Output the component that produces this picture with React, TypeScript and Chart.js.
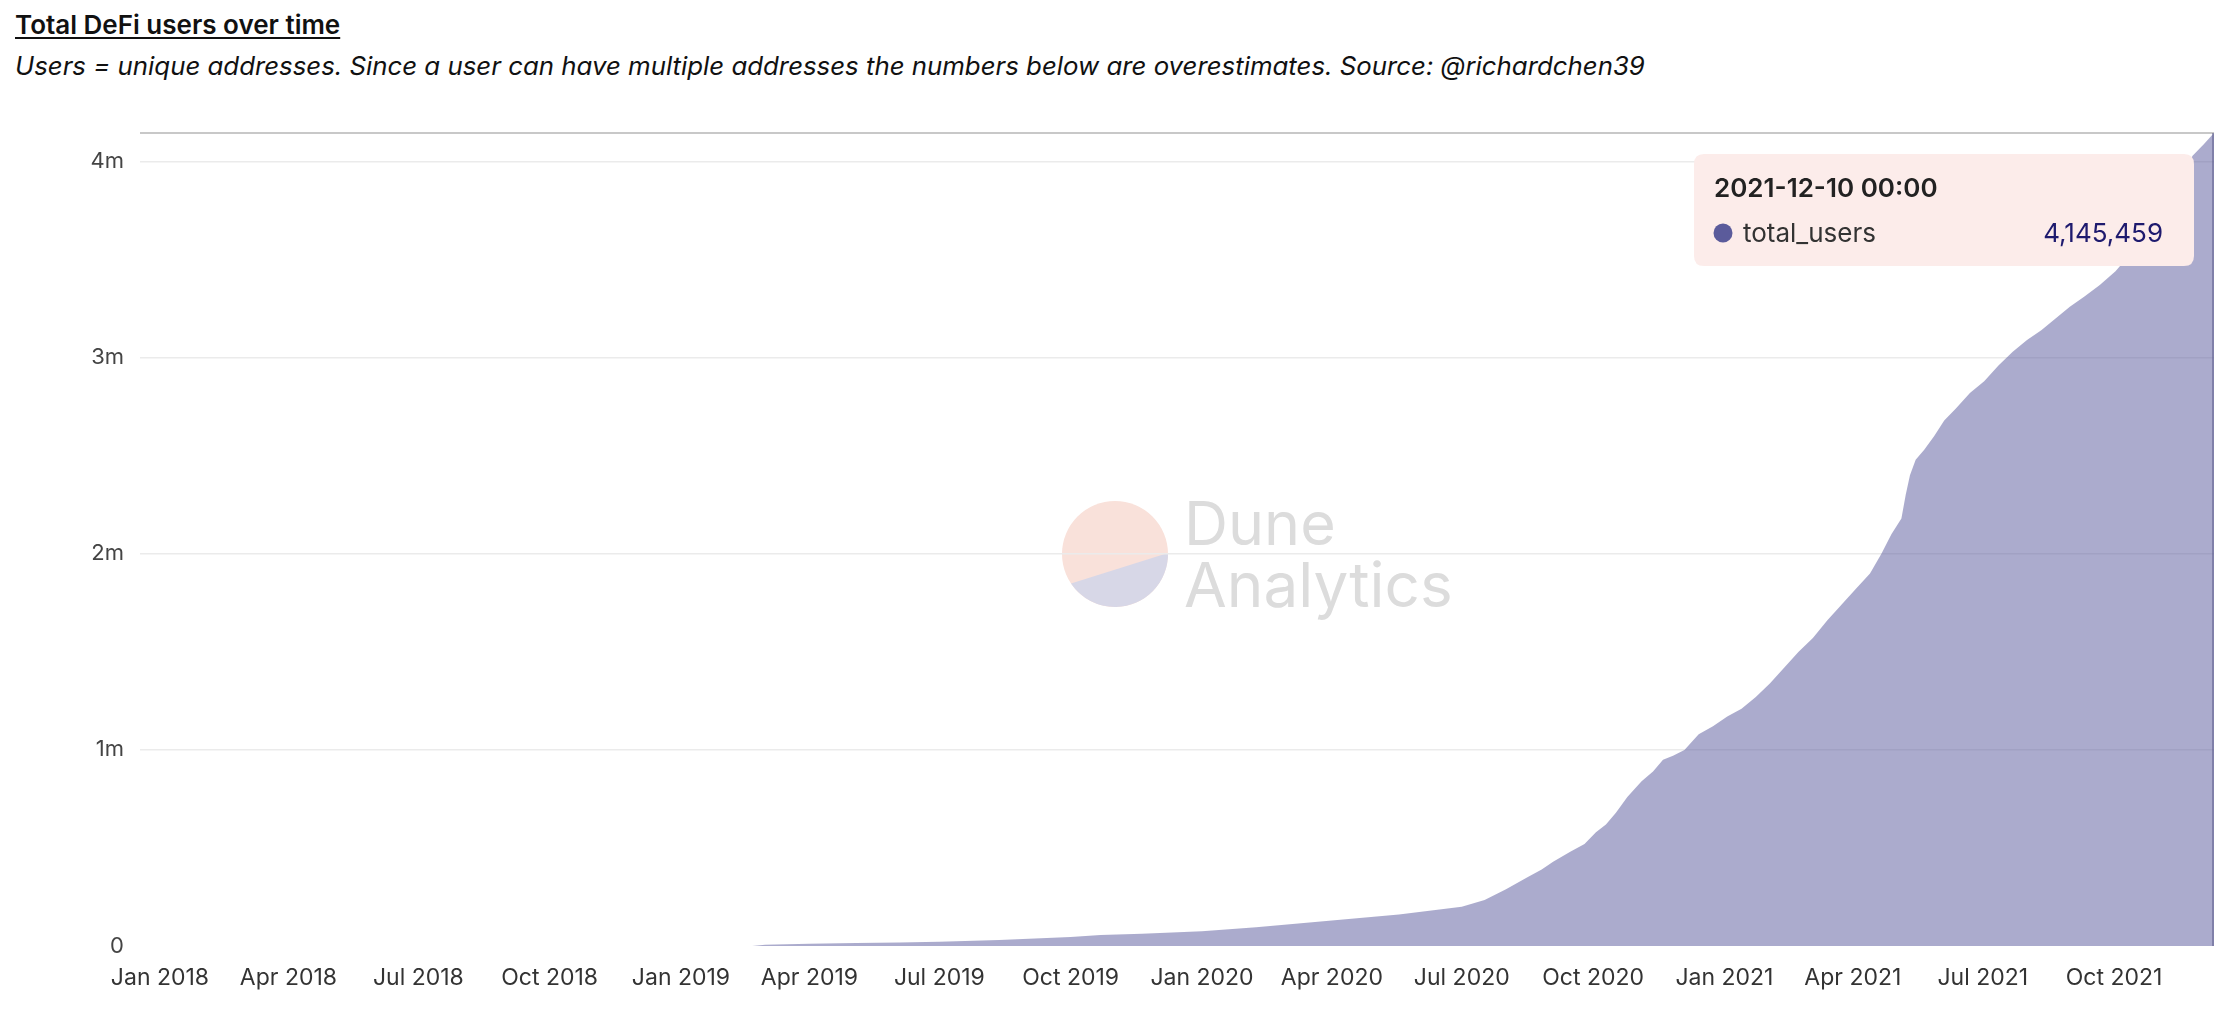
import React, { useEffect, useRef } from "react";
import { Chart, registerables } from "chart.js";

Chart.register(...registerables);

// ---- data ----
const axisStart = "2017-12-18";
const dates = [
  "2017-12-18", "2019-02-20", "2019-03-01", "2019-04-01", "2019-05-04", "2019-06-03",
  "2019-07-01", "2019-08-12", "2019-10-01", "2019-10-22", "2019-11-20", "2020-01-01",
  "2020-02-08", "2020-04-01", "2020-05-18", "2020-07-01", "2020-07-17", "2020-08-01",
  "2020-08-16", "2020-08-26", "2020-09-03", "2020-09-15", "2020-09-25", "2020-10-03",
  "2020-10-10", "2020-10-17", "2020-10-25", "2020-11-04", "2020-11-12", "2020-11-19",
  "2020-11-26", "2020-12-04", "2020-12-14", "2020-12-24", "2021-01-03", "2021-01-13",
  "2021-01-23", "2021-02-02", "2021-02-12", "2021-02-22", "2021-03-04", "2021-03-14",
  "2021-03-24", "2021-04-03", "2021-04-13", "2021-04-21", "2021-04-28", "2021-05-05",
  "2021-05-08", "2021-05-11", "2021-05-15", "2021-05-21", "2021-05-28", "2021-06-04",
  "2021-06-12", "2021-06-22", "2021-07-02", "2021-07-12", "2021-07-22", "2021-08-01",
  "2021-08-11", "2021-08-21", "2021-08-31", "2021-09-10", "2021-09-21", "2021-10-02",
  "2021-10-15", "2021-10-30", "2021-11-14", "2021-11-25", "2021-12-03", "2021-12-10",
];
const totalUsers = [
  0, 0, 6000, 11000, 15000, 18000,
  22000, 30000, 46000, 56000, 62000, 75000,
  95000, 130000, 160000, 200000, 235000, 290000,
  350000, 390000, 430000, 480000, 520000, 580000,
  620000, 680000, 760000, 840000, 890000, 950000,
  970000, 1000000, 1080000, 1120000, 1170000, 1210000,
  1270000, 1340000, 1420000, 1500000, 1570000, 1660000,
  1740000, 1820000, 1900000, 2000000, 2100000, 2180000,
  2300000, 2400000, 2480000, 2530000, 2600000, 2680000,
  2740000, 2820000, 2880000, 2960000, 3030000, 3090000,
  3140000, 3200000, 3260000, 3310000, 3370000, 3440000,
  3550000, 3700000, 3880000, 4030000, 4090000, 4145459,
];
const xTickDates = [
  "2018-01-01", "2018-04-01", "2018-07-01", "2018-10-01",
  "2019-01-01", "2019-04-01", "2019-07-01", "2019-10-01",
  "2020-01-01", "2020-04-01", "2020-07-01", "2020-10-01",
  "2021-01-01", "2021-04-01", "2021-07-01", "2021-10-01",
];
const xTickLabels = [
  "Jan 2018", "Apr 2018", "Jul 2018", "Oct 2018",
  "Jan 2019", "Apr 2019", "Jul 2019", "Oct 2019",
  "Jan 2020", "Apr 2020", "Jul 2020", "Oct 2020",
  "Jan 2021", "Apr 2021", "Jul 2021", "Oct 2021",
];
const yTickValues = [0, 1000000, 2000000, 3000000, 4000000];
const yTickLabels = ["0", "1m", "2m", "3m", "4m"];
const seriesName = "total_users";
const tooltipTitle = "2021-12-10 00:00";
const titleText = "Total DeFi users over time";
const subtitleText =
  "Users = unique addresses. Since a user can have multiple addresses the numbers below are overestimates. Source: @richardchen39";

const toMs = (s: string) => Date.parse(s + "T00:00:00Z");
const FONT = "Inter, 'Open Sans', sans-serif";

const watermarkPlugin = {
  id: "watermark",
  beforeDraw(chart: any) {
    const ctx = chart.ctx;
    const cx = 1115, cy = 554, r = 53;
    ctx.save();
    ctx.beginPath();
    ctx.arc(cx, cy, r, 0, Math.PI * 2);
    ctx.fillStyle = "#f9e1da";
    ctx.fill();
    ctx.beginPath();
    ctx.arc(cx, cy, r, -0.02, 2.55);
    ctx.closePath();
    ctx.fillStyle = "#d7d7e7";
    ctx.fill();
    ctx.fillStyle = "#dcdcdc";
    ctx.font = `61px ${FONT}`;
    ctx.textAlign = "left";
    ctx.textBaseline = "alphabetic";
    ctx.fillText("Dune", 1184, 545);
    ctx.font = `62px ${FONT}`;
    ctx.fillText("Analytics", 1184, 607);
    ctx.restore();
  },
};

const hoverPlugin = {
  id: "hoverMark",
  afterDraw(chart: any) {
    const ctx = chart.ctx;
    const area = chart.chartArea;
    const meta = chart.getDatasetMeta(0);
    const pt = meta.data[meta.data.length - 1];
    const px = pt.x, py = pt.y;
    ctx.save();
    // crosshairs
    ctx.strokeStyle = "#c8c8c8";
    ctx.lineWidth = 2;
    ctx.beginPath();
    ctx.moveTo(area.left, py);
    ctx.lineTo(area.right, py);
    ctx.stroke();
    ctx.strokeStyle = "rgba(95,95,140,0.55)";
    ctx.beginPath();
    ctx.moveTo(px - 1, py);
    ctx.lineTo(px - 1, area.bottom);
    ctx.stroke();
    // tooltip box
    const bx = px - 520, by = py + 21, bw = 500, bh = 112, br = 10;
    ctx.fillStyle = "#fcecea";
    ctx.beginPath();
    ctx.moveTo(bx + br, by);
    ctx.lineTo(bx + bw - br, by);
    ctx.quadraticCurveTo(bx + bw, by, bx + bw, by + br);
    ctx.lineTo(bx + bw, by + bh - br);
    ctx.quadraticCurveTo(bx + bw, by + bh, bx + bw - br, by + bh);
    ctx.lineTo(bx + br, by + bh);
    ctx.quadraticCurveTo(bx, by + bh, bx, by + bh - br);
    ctx.lineTo(bx, by + br);
    ctx.quadraticCurveTo(bx, by, bx + br, by);
    ctx.closePath();
    ctx.fill();
    ctx.textBaseline = "alphabetic";
    ctx.textAlign = "left";
    ctx.fillStyle = "#222222";
    ctx.font = `600 26px ${FONT}`;
    ctx.fillText(tooltipTitle, bx + 20, by + 43);
    ctx.beginPath();
    ctx.arc(bx + 29, by + 79, 9.5, 0, Math.PI * 2);
    ctx.fillStyle = "#5b5b9b";
    ctx.fill();
    ctx.fillStyle = "#333333";
    ctx.font = `400 26px ${FONT}`;
    ctx.fillText(seriesName, bx + 49, by + 88);
    ctx.textAlign = "right";
    ctx.fillStyle = "#1e1a6e";
    const v = totalUsers[totalUsers.length - 1];
    ctx.fillText(v.toLocaleString("en-US"), bx + 469, by + 88);
    ctx.restore();
  },
};

export default function App() {
  const ref = useRef<HTMLCanvasElement>(null);
  useEffect(() => {
    if (!ref.current) return;
    const maxV = Math.max(...totalUsers);
    const chart = new Chart(ref.current, {
      type: "line",
      data: {
        datasets: [
          {
            label: seriesName,
            data: dates.map((d, i) => ({ x: toMs(d), y: totalUsers[i] })),
            fill: "origin",
            backgroundColor: "rgba(88,88,155,0.5)",
            borderColor: "rgba(0,0,0,0)",
            borderWidth: 0,
            pointRadius: 0,
            tension: 0,
          },
        ],
      },
      options: {
        animation: false,
        responsive: false,
        maintainAspectRatio: false,
        events: [],
        layout: { padding: { left: 0, right: 24, top: 133, bottom: 26 } },
        plugins: { legend: { display: false }, tooltip: { enabled: false } },
        scales: {
          x: {
            type: "linear",
            min: toMs(axisStart),
            max: toMs(dates[dates.length - 1]),
            grid: { display: false },
            border: { display: false },
            ticks: {
              autoSkip: false,
              maxRotation: 0,
              minRotation: 0,
              padding: 10,
              color: "#333333",
              font: { family: FONT, size: 23 },
              callback: (_v: any, i: number) => xTickLabels[i],
            },
            afterBuildTicks: (s: any) => {
              s.ticks = xTickDates.map((d) => ({ value: toMs(d) }));
            },
            afterFit: (s: any) => {
              s.height = 50;
            },
          },
          y: {
            min: 0,
            max: maxV,
            grid: {
              drawTicks: false,
              lineWidth: 1.5,
              color: (c: any) => (c.tick && c.tick.value === 0 ? "rgba(0,0,0,0)" : "#ebebeb"),
            },
            border: { display: false },
            ticks: {
              stepSize: 1000000,
              includeBounds: false,
              padding: 16,
              color: "#444444",
              font: { family: FONT, size: 22 },
              callback: (v: any) => {
                const i = yTickValues.indexOf(Number(v));
                return i >= 0 ? yTickLabels[i] : "";
              },
            },
            afterBuildTicks: (s: any) => {
              s.ticks = yTickValues.map((v) => ({ value: v }));
            },
            afterFit: (s: any) => {
              s.width = 140;
            },
          },
        },
      },
      plugins: [watermarkPlugin, hoverPlugin],
    });
    return () => chart.destroy();
  }, []);

  return (
    <div style={{ position: "fixed", left: 0, top: 0, width: 2238, height: 1022, background: "#fff" }}>
      <div
        style={{
          position: "absolute",
          left: 15,
          top: 10,
          fontFamily: FONT,
          fontWeight: 600,
          fontSize: 26,
          lineHeight: "30px",
          color: "#111",
          textDecoration: "underline",
          textUnderlineOffset: "3px",
          textDecorationThickness: "2px",
          whiteSpace: "nowrap",
        }}
      >
        {titleText}
      </div>
      <div
        style={{
          position: "absolute",
          left: 15,
          top: 51,
          fontFamily: FONT,
          fontStyle: "italic",
          fontSize: 25.8,
          lineHeight: "30px",
          color: "#111",
          whiteSpace: "nowrap",
        }}
      >
        {subtitleText}
      </div>
      <canvas
        ref={ref}
        width={2238}
        height={1022}
        style={{ position: "absolute", left: 0, top: 0, width: 2238, height: 1022 }}
      />
    </div>
  );
}
